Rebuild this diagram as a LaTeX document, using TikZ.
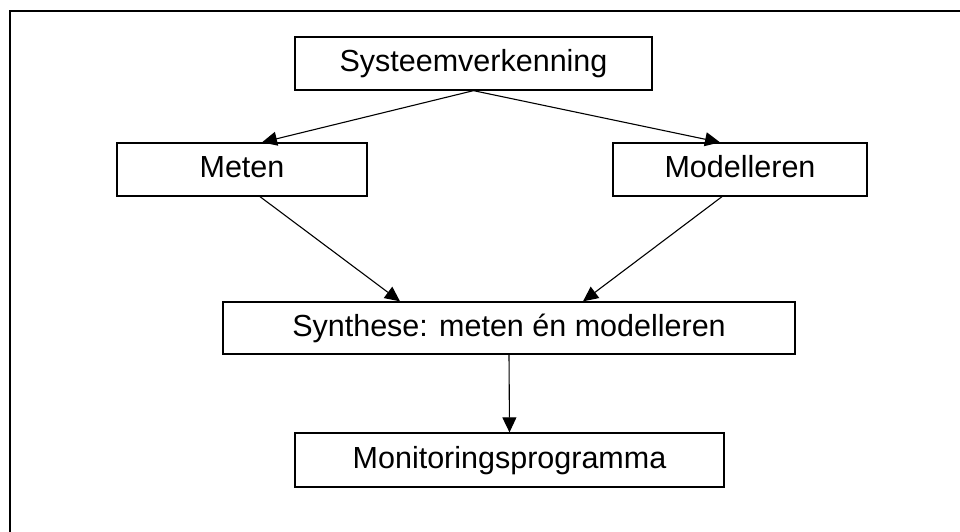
\documentclass[tikz,border=0pt]{standalone}
\usepackage{fontspec}
\setmainfont{Liberation Sans}
\usetikzlibrary{arrows.meta}

\tikzset{
  stepbox/.style={draw=black, line width=1.3pt, inner sep=0pt, fill=white,
    text height=21.8pt, text depth=5pt,
    font=\fontsize{30.5}{35}\selectfont},
  flow/.style={line width=1.1pt, -{Triangle[length=15pt,width=14pt]}},
  frame/.style={line width=2.2pt}
}

\begin{document}
\begin{tikzpicture}[x=1pt,y=-1pt]
  \useasboundingbox (0,0) rectangle (960,532);

  % enclosing frame (open to the right and bottom)
  \draw[frame] (10,532) -- (10,11) -- (960,11);

  % process steps
  \node[stepbox, minimum width=357pt, minimum height=53pt] (sys)   at (473.5,63.5) {Systeemverkenning};
  \node[stepbox, minimum width=250pt, minimum height=53pt] (meten) at (242,169.5) {Meten};
  \node[stepbox, minimum width=254pt, minimum height=53pt] (model) at (740,169.5) {Modelleren};
  \node[stepbox, minimum width=572pt, minimum height=52pt] (syn)   at (509,328)   {Synthese: meten én modelleren};
  \node[stepbox, minimum width=429pt, minimum height=54pt] (mon)   at (509.5,460) {Monitoringsprogramma};

  % connectors
  \draw[flow] (sys.south) -- ([xshift=20pt]meten.north);
  \draw[flow] (sys.south) -- ([xshift=-20pt]model.north);
  \draw[flow] ([xshift=18pt]meten.south) -- ([xshift=-109pt]syn.north);
  \draw[flow] ([xshift=-18pt]model.south) -- ([xshift=74pt]syn.north);
  \draw[flow] (syn.south) -- (mon.north);
\end{tikzpicture}
\end{document}
